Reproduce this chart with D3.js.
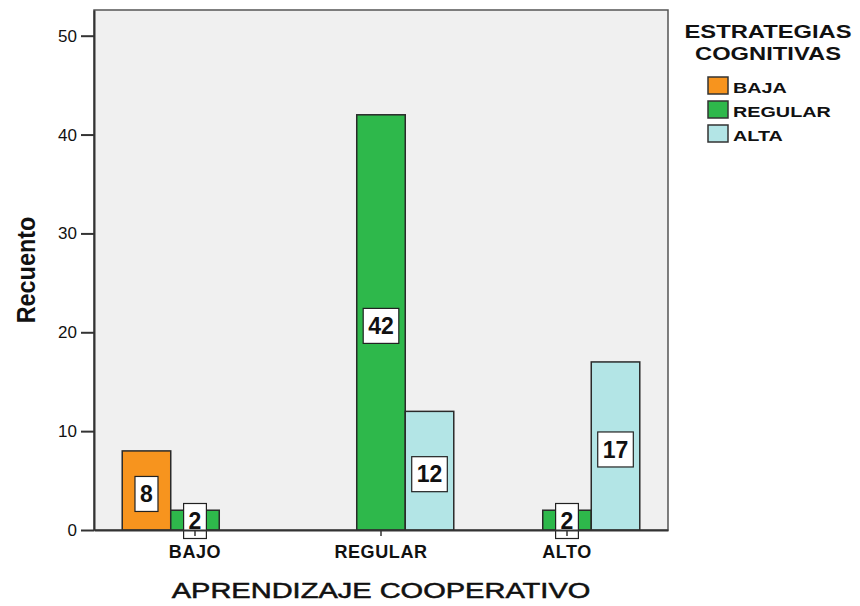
<!DOCTYPE html>
<html>
<head>
<meta charset="utf-8">
<script src="https://cdn.jsdelivr.net/npm/d3@7"></script>
<style>
  body { margin: 0; background: #fff; }
  text { font-family: "Liberation Sans", Arial, sans-serif; fill: #111; }
</style>
</head>
<body>
<div id="chart"></div>
<script>
(function() {
  // categories on the x axis and the legend series
  var categories = ['BAJO', 'REGULAR', 'ALTO'];
  var series = ['BAJA', 'REGULAR', 'ALTA'];
  // counts per category, one array per series
  var baja = [8, 0, 0];
  var regular = [2, 42, 2];
  var alta = [0, 12, 17];
  var yTicks = [0, 10, 20, 30, 40, 50];

  var colors = ['#f7941e', '#2eb84b', '#b3e5e6'];
  var width = 860;
  var height = 606;
  var margin = { top: 10, left: 94, right: 192, bottom: 76 };
  var plotW = width - margin.left - margin.right;
  var plotH = height - margin.top - margin.bottom;

  var values = [baja, regular, alta];
  var rows = categories.map(function(cat, i) {
    return {
      category: cat,
      bars: series.map(function(s, j) { return { key: s, value: values[j][i], color: colors[j] }; })
    };
  });

  var svg = d3.select('#chart').append('svg')
    .attr('width', width)
    .attr('height', height);

  var x = d3.scaleBand().domain(categories).range([0, plotW]).paddingInner(0).paddingOuter(0.043);
  var xSub = d3.scaleBand().domain(series).range([0, x.bandwidth()]).paddingInner(0).paddingOuter(0.417);
  var y = d3.scaleLinear().domain([0, 52.6]).range([plotH, 0]);

  var g = svg.append('g').attr('transform', 'translate(' + margin.left + ',' + margin.top + ')');

  // plot background and frame
  g.append('rect')
    .attr('width', plotW)
    .attr('height', plotH)
    .attr('fill', '#f0f0f0')
    .attr('stroke', '#555')
    .attr('stroke-width', 1.5);

  // bars
  var groups = g.selectAll('.group')
    .data(rows)
    .enter().append('g')
    .attr('class', 'group')
    .attr('transform', function(d) { return 'translate(' + x(d.category) + ',0)'; });

  groups.selectAll('rect')
    .data(function(d) { return d.bars.filter(function(b) { return b.value > 0; }); })
    .enter().append('rect')
    .attr('x', function(d) { return xSub(d.key); })
    .attr('y', function(d) { return y(d.value); })
    .attr('width', xSub.bandwidth())
    .attr('height', function(d) { return plotH - y(d.value); })
    .attr('fill', function(d) { return d.color; })
    .attr('stroke', '#2a2a2a')
    .attr('stroke-width', 1.5);

  // x axis
  var xAxis = g.append('g')
    .attr('transform', 'translate(0,' + plotH + ')')
    .call(d3.axisBottom(x).tickSize(6).tickSizeOuter(0).tickPadding(9));
  xAxis.select('.domain').attr('stroke', '#333').attr('stroke-width', 2);
  xAxis.selectAll('.tick line').attr('stroke', '#333').attr('stroke-width', 1.5);
  xAxis.selectAll('.tick text')
    .attr('font-size', 18)
    .attr('font-weight', 'bold')
    .attr('letter-spacing', 0.6)
    .attr('fill', '#111');

  // y axis
  var yAxis = g.append('g')
    .call(d3.axisLeft(y).tickValues(yTicks).tickSize(13).tickSizeOuter(0).tickPadding(4));
  yAxis.select('.domain').attr('stroke', '#333').attr('stroke-width', 2);
  yAxis.selectAll('.tick line').attr('stroke', '#333').attr('stroke-width', 2);
  yAxis.selectAll('.tick text')
    .attr('font-size', 17)
    .attr('fill', '#222');

  // value labels in boxes, kept from dropping too far under the baseline
  var labels = groups.selectAll('.vlabel')
    .data(function(d) { return d.bars.filter(function(b) { return b.value > 0; }); })
    .enter().append('g')
    .attr('class', 'vlabel')
    .attr('transform', function(d) {
      var cy = Math.min(y(d.value / 2) + 3.5, plotH - 9);
      return 'translate(' + (xSub(d.key) + xSub.bandwidth() / 2) + ',' + cy + ')';
    });

  labels.append('text')
    .attr('text-anchor', 'middle')
    .attr('dy', '0.36em')
    .attr('font-size', 23)
    .attr('font-weight', 'bold')
    .text(function(d) { return d.value; });

  labels.insert('rect', 'text')
    .each(function() {
      var bb = this.parentNode.querySelector('text').getBBox();
      d3.select(this)
        .attr('x', -bb.width / 2 - 5)
        .attr('y', -17.5)
        .attr('width', bb.width + 10)
        .attr('height', 35);
    })
    .attr('fill', '#fff')
    .attr('stroke', '#222')
    .attr('stroke-width', 1.2);

  // axis titles
  svg.append('text')
    .attr('transform', 'translate(' + (margin.left + plotW / 2) + ',598) scale(1.35,1)')
    .attr('text-anchor', 'middle')
    .attr('font-size', 21.5)
    .attr('stroke', '#111')
    .attr('stroke-width', 0.5)
    .text('APRENDIZAJE COOPERATIVO');

  svg.append('text')
    .attr('transform', 'translate(35,' + (margin.top + plotH / 2) + ') rotate(-90) scale(0.9,1)')
    .attr('text-anchor', 'middle')
    .attr('font-size', 26)
    .attr('font-weight', 'bold')
    .text('Recuento');

  // legend
  var legend = svg.append('g').attr('class', 'legend');
  legend.selectAll('.ltitle')
    .data(['ESTRATEGIAS', 'COGNITIVAS'])
    .enter().append('text')
    .attr('class', 'ltitle')
    .attr('transform', function(d, i) { return 'translate(768,' + (38 + i * 22) + ') scale(1.32,1)'; })
    .attr('text-anchor', 'middle')
    .attr('font-size', 18)
    .attr('font-weight', 'bold')
    .text(function(d) { return d; });

  var items = legend.selectAll('.litem')
    .data(series)
    .enter().append('g')
    .attr('class', 'litem')
    .attr('transform', function(d, i) { return 'translate(708,' + (77 + i * 24) + ')'; });

  items.append('rect')
    .attr('width', 20)
    .attr('height', 17)
    .attr('fill', function(d, i) { return colors[i]; })
    .attr('stroke', '#333')
    .attr('stroke-width', 1.5);

  items.append('text')
    .attr('transform', 'translate(25,16) scale(1.32,1)')
    .attr('font-size', 15)
    .attr('font-weight', 'bold')
    .text(function(d) { return d; });
})();
</script>
</body>
</html>
